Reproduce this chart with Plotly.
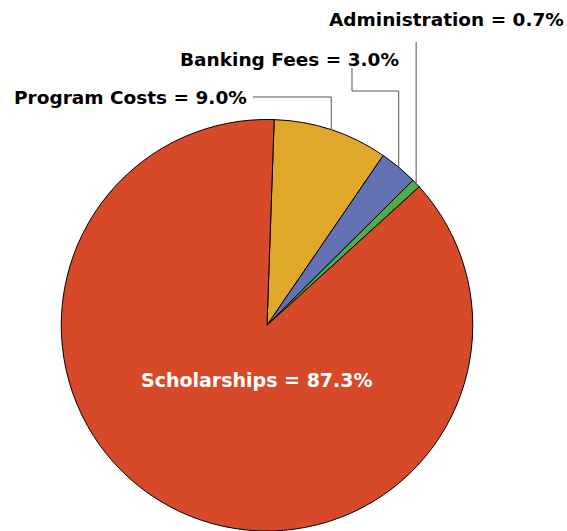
import math
import plotly.graph_objects as go

categories = ["Program Costs", "Banking Fees", "Administration", "Scholarships"]
values = [9.0, 3.0, 0.7, 87.3]
colors = ["#E0A82B", "#6370B4", "#4BAE4A", "#D64A29"]
label_texts = [f"{c} = {v:.1f}%" for c, v in zip(categories, values)]

W, H = 567, 531
ROT = 2.0
dom_x = [61 / W, 473 / W]
dom_y = [0.0, 0.775]

FONT = "DejaVu Sans"
FS = 18.5

fig = go.Figure(go.Pie(
    labels=categories, values=values, sort=False, direction="clockwise",
    rotation=ROT, marker=dict(colors=colors, line=dict(color="black", width=1)),
    textinfo="none", hoverinfo="label+percent", showlegend=False,
    domain=dict(x=dom_x, y=dom_y),
))

# geometry of pie in pixels (derived from domain)
cx = (dom_x[0] + dom_x[1]) / 2 * W
cy = (1 - (dom_y[0] + dom_y[1]) / 2) * H
R = min((dom_x[1] - dom_x[0]) * W, (dom_y[1] - dom_y[0]) * H) / 2
total = sum(values)

def edge(i):
    start = ROT + 360 * sum(values[:i]) / total
    mid = math.radians(start + 180 * values[i] / total)
    return cx + R * math.sin(mid), cy - R * math.cos(mid)

def P(x, y):
    return x / W, 1 - y / H

shapes = []
def line(pts):
    path = "M " + " L ".join(f"{P(x,y)[0]:.5f},{P(x,y)[1]:.5f}" for x, y in pts)
    shapes.append(dict(type="path", path=path, xref="paper", yref="paper",
                       line=dict(color="#555555", width=1)))

# Program Costs leader
ex, ey = edge(0)
line([(253, 97), (ex, 97), (ex, ey)])
# Banking Fees leader
ex, ey = edge(1)
line([(352, 68), (352, 91), (ex, 91), (ex, ey)])
# Administration leader
ex, ey = edge(2)
line([(ex, 42), (ex, ey)])

annotations = [
    dict(text=label_texts[0], x=P(249, 0)[0], y=P(0, 97)[1], xanchor="right", yanchor="middle"),
    dict(text=label_texts[1], x=P(401, 0)[0], y=P(0, 59)[1], xanchor="right", yanchor="middle"),
    dict(text=label_texts[2], x=P(566, 0)[0], y=P(0, 20)[1], xanchor="right", yanchor="middle"),
]
for a in annotations:
    a.update(xref="paper", yref="paper", showarrow=False,
             font=dict(family=FONT, size=FS, color="black", weight="bold"))
annotations.append(dict(text=label_texts[3], x=P(257, 0)[0], y=P(0, 380)[1],
                        xref="paper", yref="paper", showarrow=False,
                        xanchor="center", yanchor="middle",
                        font=dict(family=FONT, size=19, color="white", weight="bold")))

fig.update_layout(
    width=W, height=H, margin=dict(l=0, r=0, t=0, b=0),
    paper_bgcolor="white", plot_bgcolor="white",
    shapes=shapes, annotations=annotations,
)
fig.write_html("out.html", config={"displayModeBar": False},
               post_script="document.body.style.margin='0';document.body.style.overflow='hidden';")
